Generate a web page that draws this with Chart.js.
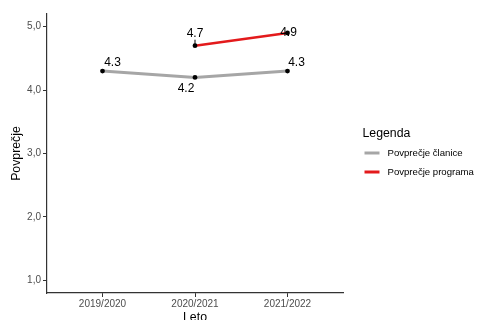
<!DOCTYPE html>
<html>
<head>
<meta charset="utf-8">
<script src="https://cdn.jsdelivr.net/npm/chart.js@4.4.1/dist/chart.umd.min.js"></script>
<style>
  html, body { margin: 0; padding: 0; background: #fff; }
  #wrap { width: 477px; height: 320px; }
</style>
</head>
<body>
<div id="wrap"><canvas id="chart"></canvas></div>
<script>
const years = ['2019/2020', '2020/2021', '2021/2022'];
const clanice = [4.3, 4.2, 4.3];
const program = [null, 4.7, 4.9];
const seriesNames = ['Povprečje članice', 'Povprečje programa'];
const yTicks = [1, 2, 3, 4, 5];

const FONT = '"Liberation Sans", Arial, sans-serif';

// label nudges (dx, dy) in px, like ggrepel placed them
const labelNudge = [
  [[10, -8], [-9, 11], [9, -8]],
  [null, [0, -12], [1, 0]]
];

const toPoints = arr => arr.map((v, i) => ({ x: i + 1, y: v }));

const valueLabels = {
  id: 'valueLabels',
  afterDatasetsDraw(chart) {
    const ctx = chart.ctx;
    ctx.save();
    ctx.font = '12px ' + FONT;
    ctx.fillStyle = '#000';
    ctx.textAlign = 'center';
    ctx.textBaseline = 'middle';
    chart.data.datasets.forEach((ds, di) => {
      const meta = chart.getDatasetMeta(di);
      meta.data.forEach((pt, i) => {
        const v = ds.data[i].y;
        const nudge = labelNudge[di][i];
        if (v == null || !nudge) return;
        const lx = pt.x + nudge[0];
        const ly = pt.y + nudge[1];
        ctx.fillText(v.toFixed(1), lx, ly);
        // little connector when the label is pushed straight up
        if (nudge[0] === 0 && nudge[1] < -10) {
          ctx.strokeStyle = '#000';
          ctx.lineWidth = 1;
          ctx.beginPath();
          ctx.moveTo(pt.x, ly + 6);
          ctx.lineTo(pt.x, pt.y - 1);
          ctx.stroke();
        }
      });
    });
    ctx.restore();
  }
};

// ggplot-like legend on the right, drawn in the padding area
const sideLegend = {
  id: 'sideLegend',
  afterDraw(chart, args, opts) {
    const ctx = chart.ctx;
    ctx.save();
    ctx.textAlign = 'left';
    ctx.textBaseline = 'middle';
    ctx.fillStyle = '#000';
    ctx.font = '12.3px ' + FONT;
    ctx.fillText(opts.title, opts.x, opts.titleY);
    ctx.font = '9.6px ' + FONT;
    chart.data.datasets.forEach((ds, i) => {
      const y = opts.itemY + i * opts.step;
      ctx.strokeStyle = ds.borderColor;
      ctx.lineWidth = 3;
      ctx.beginPath();
      ctx.moveTo(opts.x + 2, y);
      ctx.lineTo(opts.x + 17, y);
      ctx.stroke();
      ctx.fillText(ds.label, opts.x + 25, y);
    });
    ctx.restore();
  }
};

new Chart(document.getElementById('chart'), {
  type: 'line',
  data: {
    datasets: [
      {
        label: seriesNames[0],
        data: toPoints(clanice),
        borderColor: '#A6A6A6',
        backgroundColor: '#A6A6A6',
        borderWidth: 3,
        pointRadius: 2.4,
        pointBackgroundColor: '#000',
        pointBorderWidth: 0,
        tension: 0
      },
      {
        label: seriesNames[1],
        data: toPoints(program),
        borderColor: '#E31A1C',
        backgroundColor: '#E31A1C',
        borderWidth: 2.6,
        pointRadius: 2.4,
        pointBackgroundColor: '#000',
        pointBorderWidth: 0,
        tension: 0
      }
    ]
  },
  options: {
    responsive: true,
    maintainAspectRatio: false,
    animation: false,
    layout: { padding: { top: 14, right: 134, bottom: 0, left: 0 } },
    scales: {
      x: {
        type: 'linear',
        min: 0.4,
        max: 3.6,
        afterBuildTicks: s => { s.ticks = years.map((_, i) => ({ value: i + 1 })); },
        afterFit: s => { s.height = 27; },
        grid: { display: true, drawOnChartArea: false, drawTicks: true, tickLength: 4, color: '#333' },
        border: { display: true, color: '#333', width: 1.2 },
        ticks: {
          padding: 1,
          color: '#4D4D4D',
          font: { family: FONT, size: 10 },
          callback: v => years[v - 1]
        },
        title: {
          display: true,
          text: 'Leto',
          color: '#000',
          font: { family: FONT, size: 12.3 },
          padding: { top: 0, bottom: -5 }
        }
      },
      y: {
        type: 'linear',
        min: 0.8,
        max: 5.2,
        afterBuildTicks: s => { s.ticks = yTicks.map(v => ({ value: v })); },
        afterFit: s => { s.width = 47; },
        grid: { display: true, drawOnChartArea: false, drawTicks: true, tickLength: 4, color: '#333' },
        border: { display: true, color: '#333', width: 1.2 },
        ticks: {
          padding: 2,
          color: '#4D4D4D',
          font: { family: FONT, size: 10 },
          callback: v => v.toFixed(1).replace('.', ',')
        },
        title: {
          display: true,
          text: 'Povprečje',
          color: '#000',
          font: { family: FONT, size: 12.3 },
          padding: { top: 9, bottom: 0 }
        }
      }
    },
    plugins: {
      legend: { display: false },
      tooltip: { enabled: false },
      sideLegend: { title: 'Legenda', x: 362.5, titleY: 134, itemY: 153, step: 19 }
    }
  },
  plugins: [valueLabels, sideLegend]
});
</script>
</body>
</html>
